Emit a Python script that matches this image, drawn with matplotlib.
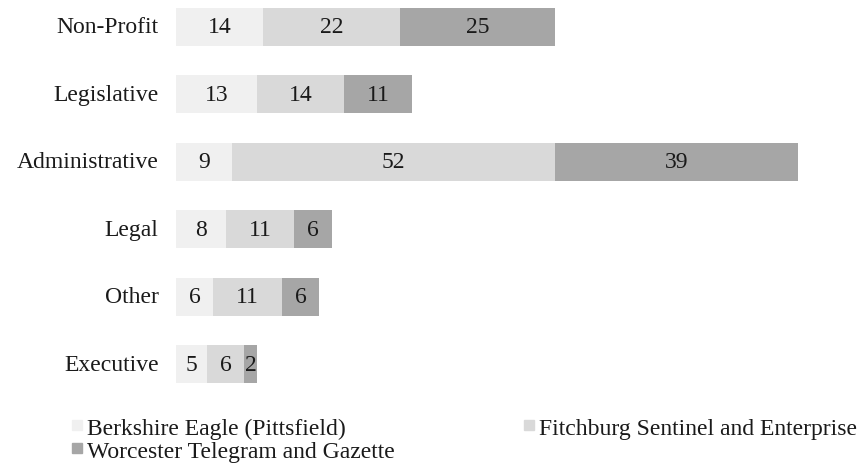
import matplotlib
matplotlib.use("Agg")
import matplotlib.pyplot as plt
from matplotlib.lines import Line2D

categories = ["Non-Profit", "Legislative", "Administrative", "Legal", "Other", "Executive"]
series_names = ["Berkshire Eagle (Pittsfield)", "Fitchburg Sentinel and Enterprise",
                "Worcester Telegram and Gazette"]
berkshire = [14, 13, 9, 8, 6, 5]
fitchburg = [22, 14, 52, 11, 11, 6]
worcester = [25, 11, 39, 6, 6, 2]
colors = ["#f0f0f0", "#d9d9d9", "#a6a6a6"]

plt.rcParams['font.family'] = ['Liberation Serif', 'DejaVu Serif']
FS = 17
TXT = '#1a1a1a'

W, H = 865, 464
fig = plt.figure(figsize=(W / 100, H / 100), dpi=100)
ax = fig.add_axes([176 / W, 1 - 400 / H, 622 / W, 400 / H])

ypos = list(range(len(categories)))
left = [0] * len(categories)
for vals, col in zip([berkshire, fitchburg, worcester], colors):
    ax.barh(ypos, vals, left=left, height=0.565, color=col, edgecolor='none')
    for y, l, v in zip(ypos, left, vals):
        ax.text(l + v / 2, y, str(v), ha='center', va='center', fontsize=FS, color=TXT)
    left = [a + b for a, b in zip(left, vals)]

ax.set_xlim(0, 100)
ax.set_ylim(5.519, -0.415)
ax.set_yticks(ypos)
ax.set_yticklabels(categories, fontsize=FS, color=TXT, va='center')
ax.tick_params(axis='y', length=0, pad=12.5)
ax.set_xticks([])
for s in ax.spines.values():
    s.set_visible(False)

order = [0, 2, 1]
handles = [Line2D([], [], marker='s', linestyle='none', markersize=7.2, color=colors[i]) for i in order]
labels = [series_names[i] for i in order]
fig.legend(handles, labels, loc='upper left', bbox_to_anchor=(72 / W, 1 - 418 / H),
           ncol=2, frameon=False, fontsize=FS, handlelength=0.45, handletextpad=0.2,
           columnspacing=5.45, labelspacing=0.07, borderaxespad=0, borderpad=0,
           labelcolor=TXT)

fig.savefig("out.png", dpi=100)
